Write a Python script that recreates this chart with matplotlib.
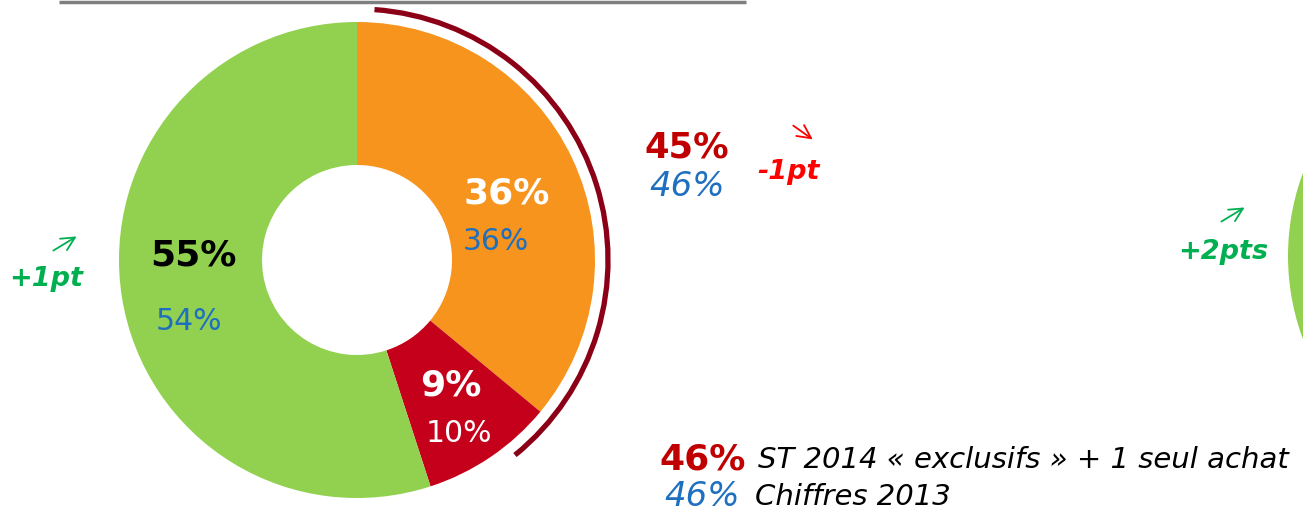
import matplotlib
matplotlib.use("Agg")
import matplotlib.pyplot as plt
from matplotlib.patches import Arc, Wedge

# ---- data ----
segments = ["orange", "red", "green"]
share_2014 = [36, 9, 55]
share_2013 = [36, 10, 54]
total_2014 = 45
total_2013 = 46
change_total = "-1pt"
change_green = "+1pt"
change_right = "+2pts"
legend_2014_value = "46%"
legend_2014_text = "ST 2014 « exclusifs » + 1 seul achat"
legend_2013_value = "46%"
legend_2013_text = "Chiffres 2013"

colors = ["#F7941D", "#C4001A", "#92D050"]
BLUE = "#1F6FC0"
DARKRED = "#C00000"
GREEN_TXT = "#00B050"

W, H = 1303, 513
fig = plt.figure(figsize=(W / 100, H / 100), dpi=100)
ax = fig.add_axes([0, 0, 1, 1])

def Y(y):
    return H - y

cx, cy, R = 357, Y(260), 238
ax.pie(share_2014, colors=colors, startangle=90, counterclock=False,
       center=(cx, cy), radius=R, wedgeprops=dict(width=R - 95, linewidth=0),
       frame=True)
ax.set_xlim(0, W)
ax.set_ylim(0, H)
ax.set_aspect("equal")
ax.axis("off")

# bracket arc over orange + red
ax.add_patch(Arc((cx, cy), 2 * 251, 2 * 251, theta1=-51, theta2=86,
                 color="#8B0016", lw=3.8))

# partial donut of next chart on the right
ax.add_patch(Wedge((1527, Y(256)), 239, 0, 360, width=143, color=colors[2], lw=0))

# top gray rule
ax.plot([59, 746], [Y(1.5), Y(1.5)], color="#7F7F7F", lw=2.5, solid_capstyle="butt")

# slice labels
ax.text(507, Y(193), f"{share_2014[0]}%", color="white", fontsize=26, fontweight="bold", ha="center", va="center")
ax.text(496, Y(241), f"{share_2013[0]}%", color=BLUE, fontsize=21.5, ha="center", va="center")
ax.text(451, Y(385), f"{share_2014[1]}%", color="white", fontsize=26, fontweight="bold", ha="center", va="center")
ax.text(459, Y(434), f"{share_2013[1]}%", color="white", fontsize=21.5, ha="center", va="center")
ax.text(193, Y(255), f"{share_2014[2]}%", color="black", fontsize=26, fontweight="bold", ha="center", va="center")
ax.text(189, Y(322), f"{share_2013[2]}%", color=BLUE, fontsize=21.5, ha="center", va="center")

# totals
ax.text(687, Y(148), f"{total_2014}%", color=DARKRED, fontsize=25.5, fontweight="bold", ha="center", va="center")
ax.text(687, Y(186), f"{total_2013}%", color=BLUE, fontsize=24.5, style="italic", ha="center", va="center")
ax.text(789, Y(172), change_total, color="#FF0000", fontsize=19.5, fontweight="bold", style="italic", ha="center", va="center")
arrow_kw = dict(arrowstyle="->", lw=1.3, mutation_scale=24)
ax.annotate("", xy=(815, Y(141)), xytext=(791, Y(124)),
            arrowprops=dict(color="#FF0000", **arrow_kw))

# green changes
ax.text(46, Y(279), change_green, color=GREEN_TXT, fontsize=19.5, fontweight="bold", style="italic", ha="center", va="center")
ax.annotate("", xy=(79, Y(235)), xytext=(51, Y(252)),
            arrowprops=dict(color=GREEN_TXT, **arrow_kw))
ax.text(1223, Y(252), change_right, color=GREEN_TXT, fontsize=19.5, fontweight="bold", style="italic", ha="center", va="center")
ax.annotate("", xy=(1247, Y(206)), xytext=(1219, Y(223)),
            arrowprops=dict(color=GREEN_TXT, **arrow_kw))

# legend text
ax.text(659, Y(460), legend_2014_value, color=DARKRED, fontsize=26, fontweight="bold", ha="left", va="center")
ax.text(758, Y(460), legend_2014_text, color="black", fontsize=21, style="italic", ha="left", va="center")
ax.text(664, Y(497), legend_2013_value, color=BLUE, fontsize=24.5, style="italic", ha="left", va="center")
ax.text(755, Y(497), legend_2013_text, color="black", fontsize=21, style="italic", ha="left", va="center")

fig.savefig("out.png", dpi=100)
